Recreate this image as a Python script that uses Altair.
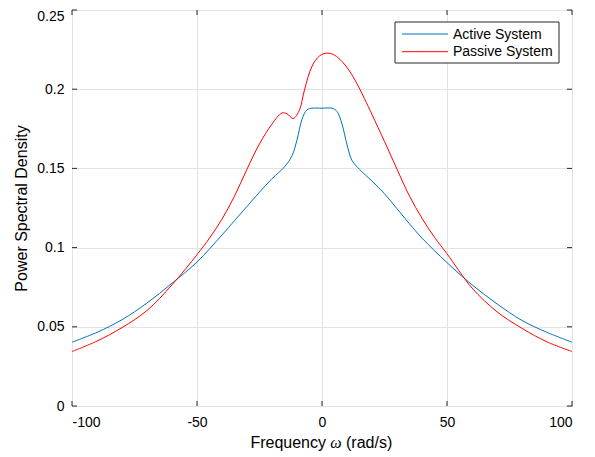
import altair as alt
import pandas as pd

# ---- data ----
active_x = [-100, -90, -80, -70, -60, -50, -40, -35, -30, -25, -20, -15, -12, -10, -8, -6, -4,
            0, 4, 6, 8, 10, 12, 15, 20, 25, 30, 35, 40, 50, 60, 70, 80, 90, 100]
active_y = [0.0403, 0.0465, 0.0545, 0.065, 0.0775, 0.0909, 0.108, 0.117, 0.126, 0.135, 0.1435,
            0.151, 0.158, 0.168, 0.181, 0.187, 0.188, 0.188, 0.188, 0.186, 0.178, 0.165, 0.155,
            0.1494, 0.142, 0.134, 0.1245, 0.115, 0.106, 0.0905, 0.0765, 0.0645, 0.054, 0.0465, 0.0403]

passive_x = [-100, -90, -80, -70, -60, -50, -45, -40, -35, -30, -25, -20, -16, -14, -11.5, -9, -7,
             -4, -1, 2, 5, 8, 11, 14, 17, 20, 25, 30, 35, 40, 45, 50, 60, 70, 80, 90, 100]
passive_y = [0.0344, 0.041, 0.0495, 0.0603, 0.0765, 0.0955, 0.106, 0.118, 0.1325, 0.1495, 0.1655,
             0.178, 0.185, 0.1845, 0.1815, 0.187, 0.1996, 0.2145, 0.221, 0.2228, 0.2215, 0.2175,
             0.2115, 0.2035, 0.194, 0.184, 0.167, 0.1495, 0.1325, 0.1185, 0.1065, 0.0961, 0.0745,
             0.0595, 0.049, 0.0405, 0.0344]

series_names = ["Active System", "Passive System"]
series_colors = ["#0072BD", "#FF0000"]

x_ticks = [-100, -50, 0, 50, 100]
y_ticks = [0, 0.05, 0.1, 0.15, 0.2, 0.25]
x_title_parts = ["Frequency", "ω", "(rad/s)"]

W, H = 500, 396
FONT = "Liberation Sans"
AX = "#262626"

df = pd.concat([
    pd.DataFrame({"w": active_x, "psd": active_y, "series": series_names[0], "ord": range(len(active_x))}),
    pd.DataFrame({"w": passive_x, "psd": passive_y, "series": series_names[1], "ord": range(len(passive_x))}),
])

xscale = alt.Scale(domain=[-100, 100], nice=False)
yscale = alt.Scale(domain=[0, 0.25], nice=False)

lines = alt.Chart(df).mark_line(strokeWidth=1, interpolate="catmull-rom", clip=True).encode(
    x=alt.X("w:Q", scale=xscale,
            axis=alt.Axis(values=x_ticks, title=None, ticks=False, labelPadding=9, grid=True,
                          labelExpr="'' + datum.value")),
    y=alt.Y("psd:Q", scale=yscale,
            axis=alt.Axis(values=y_ticks, format="~g", title="Power Spectral Density", ticks=False,
                          labelPadding=8, titlePadding=7, grid=True,
                          labelOffset={"condition": {"test": "datum.value >= 0.25", "value": 6}, "value": 0})),
    color=alt.Color("series:N", scale=alt.Scale(domain=series_names, range=series_colors), legend=None),
    order="ord:Q",
)

# inward ticks on all four sides (MATLAB box style)
xt = pd.DataFrame({"v": x_ticks})
yt = pd.DataFrame({"v": y_ticks})
tb = alt.Chart(xt).mark_rule(color=AX, strokeWidth=1).encode(
    x=alt.X("v:Q", scale=xscale), y=alt.value(H), y2=alt.value(H - 5))
tt = alt.Chart(xt).mark_rule(color=AX, strokeWidth=1).encode(
    x=alt.X("v:Q", scale=xscale), y=alt.value(0), y2=alt.value(5))
tl = alt.Chart(yt).mark_rule(color=AX, strokeWidth=1).encode(
    y=alt.Y("v:Q", scale=yscale), x=alt.value(0), x2=alt.value(5))
tr = alt.Chart(yt).mark_rule(color=AX, strokeWidth=1).encode(
    y=alt.Y("v:Q", scale=yscale), x=alt.value(W), x2=alt.value(W - 5))

# x-axis title with italic omega (MATLAB TeX style)
TY = 438
t1 = alt.Chart(pd.DataFrame({"t": [x_title_parts[0]]})).mark_text(
    align="right", baseline="alphabetic", font=FONT, fontSize=16, color="#000000").encode(
    x=alt.value(254), y=alt.value(TY), text="t:N")
t2 = alt.Chart(pd.DataFrame({"t": [x_title_parts[1]]})).mark_text(
    align="center", baseline="alphabetic", font="Liberation Serif", fontStyle="italic",
    fontSize=16, color="#000000").encode(
    x=alt.value(264), y=alt.value(TY), text="t:N")
t3 = alt.Chart(pd.DataFrame({"t": [x_title_parts[2]]})).mark_text(
    align="left", baseline="alphabetic", font=FONT, fontSize=16, color="#000000").encode(
    x=alt.value(274), y=alt.value(TY), text="t:N")

# legend box (drawn manually to match MATLAB's compact legend)
leg_df = pd.DataFrame({"series": series_names})
box = alt.Chart(leg_df.head(1)).mark_rect(fill="white", stroke=AX, strokeWidth=1).encode(
    x=alt.value(323), x2=alt.value(487), y=alt.value(12), y2=alt.value(53))
legend_layers = [box]
for i, (name, col) in enumerate(zip(series_names, series_colors)):
    row = pd.DataFrame({"series": [name]})
    yy = 24 + i * 17.7
    legend_layers.append(alt.Chart(row).mark_rule(color=col, strokeWidth=1).encode(
        x=alt.value(330), x2=alt.value(376), y=alt.value(yy)))
    legend_layers.append(alt.Chart(row).mark_text(
        align="left", baseline="middle", font=FONT, fontSize=14, color="#000000").encode(
        x=alt.value(381), y=alt.value(yy + 0.5), text="series:N"))

chart = alt.layer(lines, tb, tt, tl, tr, t1, t2, t3, *legend_layers).properties(
    width=W, height=H,
    background="white",
    autosize=alt.AutoSizeParams(type="none"),
    padding={"left": 64, "top": 2, "right": 15, "bottom": 49},
).configure_view(stroke=AX, strokeWidth=1).configure_axis(
    domain=False, gridColor="#E3E3E3", gridWidth=1,
    labelFont=FONT, labelFontSize=14, labelColor="#000000",
    titleFont=FONT, titleFontSize=16, titleFontWeight="normal", titleColor="#000000",
)

chart.save("out.html", embed_options={"renderer": "svg", "actions": False})
